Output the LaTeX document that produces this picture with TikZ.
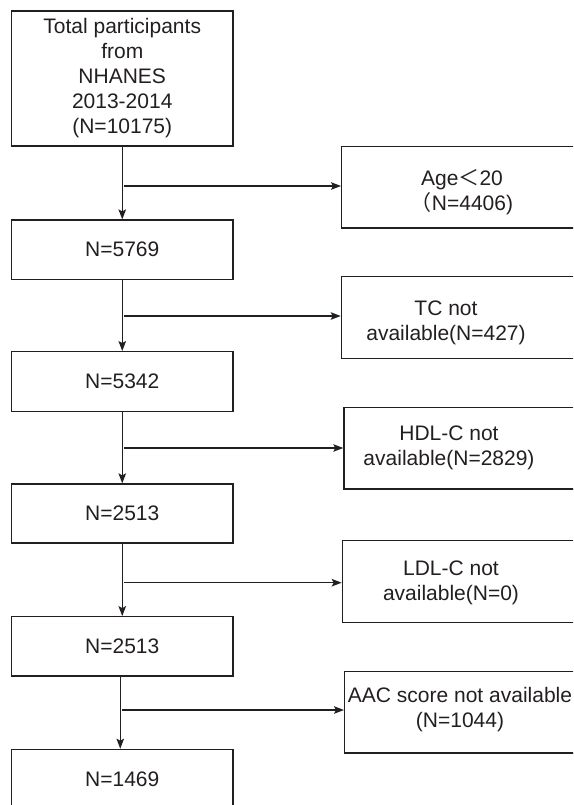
\documentclass[tikz,border=0pt]{standalone}
\usepackage{fontspec}
\setmainfont{Liberation Sans}
\newfontfamily\cjk{Noto Sans CJK SC}
\usetikzlibrary{arrows.meta}
\definecolor{ink}{RGB}{35,31,32}
\begin{document}
\begin{tikzpicture}[x=1pt,y=-1pt,
  lbox/.style={draw=ink, line width=1.3pt, minimum width=221.5pt, inner sep=0pt, align=center, text=ink, font=\fontsize{21}{25}\selectfont},
  rbox/.style={draw=ink, line width=1.3pt, inner sep=0pt, anchor=north west, minimum width=236pt, minimum height=81.5pt},
  txt/.style={align=center, inner sep=0pt, text=ink, font=\fontsize{21}{25}\selectfont},
  arr/.style={draw=ink, line width=1.3pt, -{Stealth[length=10pt,width=7.5pt,inset=2pt]}}]
\path[use as bounding box] (0,0) rectangle (573,805);
\clip (0,0) rectangle (573,805);
% main column
\node[lbox, minimum height=135pt] (top) at (122.25,78.5) {Total participants\\from\\NHANES\\2013-2014\\(N=10175)};
\node[lbox, minimum height=59.3pt] (n1) at (122.25,249.7) {N=5769};
\node[lbox, minimum height=60pt] (n2) at (122.25,381.7) {N=5342};
\node[lbox, minimum height=59pt] (n3) at (122.25,513.5) {N=2513};
\node[lbox, minimum height=59.3pt] (n4) at (122.25,646.4) {N=2513};
\node[lbox, minimum height=59.3pt] (n5) at (122.25,779) {N=1469};
% exclusion boxes
\node[rbox] (e1) at (341,145.7) {};
\node[rbox] (e2) at (340.7,276) {};
\node[rbox] (e3) at (343.3,406.7) {};
\node[rbox] (e4) at (341.7,540) {};
\node[rbox] (e5) at (344,670.7) {};
\node[txt] (t1) at (462,192) {Age{\cjk ＜}20\\{\cjk （}N=4406)};
\node[txt] (t2) at (446,323) {TC not\\available(N=427)};
\node[txt] (t3) at (449,447.5) {HDL-C not\\available(N=2829)};
\node[txt] (t4) at (451,583) {LDL-C not\\available(N=0)};
\node[txt] (t5) at (460,710) {AAC score not available\\(N=1044)};
% vertical arrows
\draw[arr] (top.south) -- (n1.north);
\draw[arr] (n1.south) -- (n2.north);
\draw[arr] (n2.south) -- (n3.north);
\draw[arr] (n3.south) -- (n4.north);
\draw[arr] ([xshift=-2pt]n4.south) -- ([xshift=-2pt]n5.north);
% horizontal arrows
\coordinate (c1) at (124,186);
\coordinate (c2) at (124,316);
\coordinate (c3) at (124,448);
\coordinate (c4) at (124,582.7);
\coordinate (c5) at (122,710);
\draw[arr] (c1) -- (c1 -| e1.west);
\draw[arr] (c2) -- (c2 -| e2.west);
\draw[arr] (c3) -- (c3 -| e3.west);
\draw[arr] (c4) -- (c4 -| e4.west);
\draw[arr] (c5) -- (c5 -| e5.west);
\end{tikzpicture}
\end{document}
